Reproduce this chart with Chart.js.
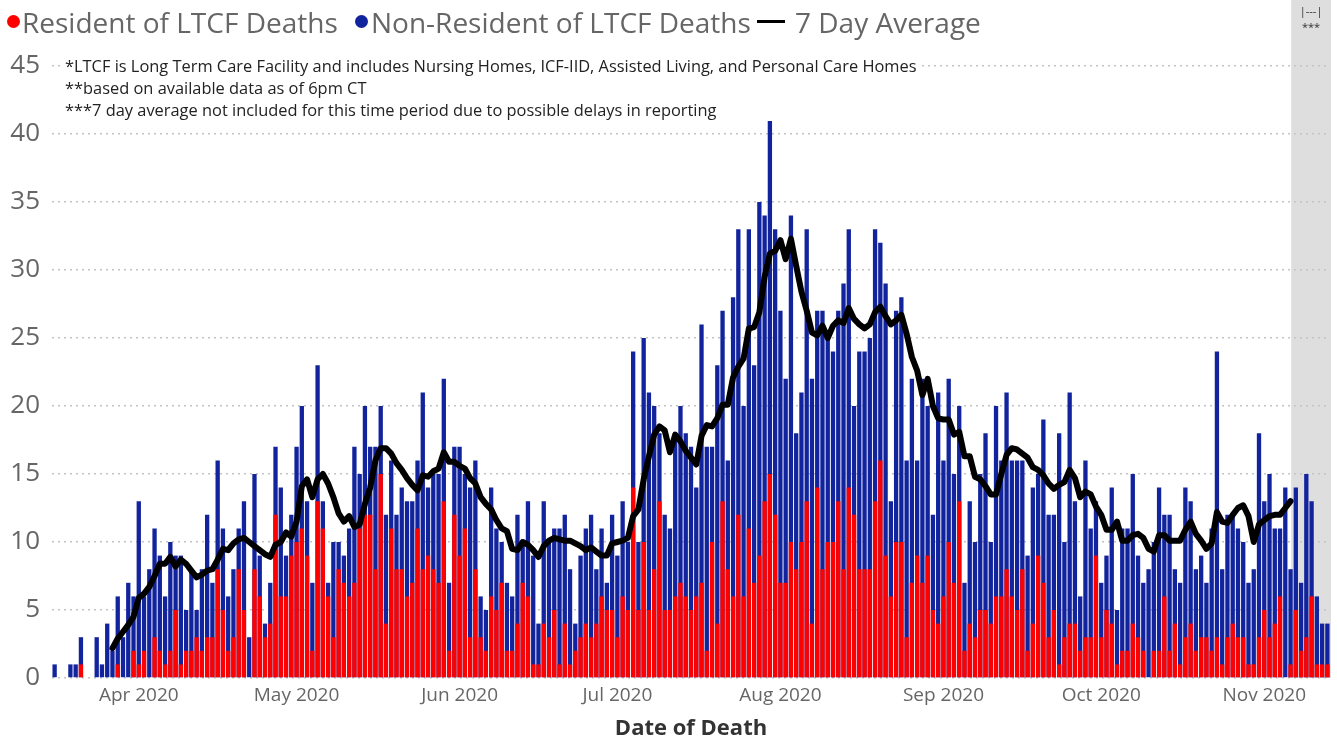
<!DOCTYPE html>
<html>
<head>
<meta charset="utf-8">
<script src="https://cdn.jsdelivr.net/npm/chart.js@4.4.0/dist/chart.umd.min.js"></script>
<style>
  html, body { margin: 0; padding: 0; background: #fff; }
  #wrap { position: relative; width: 1337px; height: 743px; overflow: hidden; }
  #chart { position: absolute; left: 0; top: 0; }
  .lg { position: absolute; top: 4px; font-family: "Open Sans", sans-serif; font-size: 28px; line-height: 36px; color: #666; white-space: nowrap; }
  .dot { position: absolute; top: 15px; width: 13px; height: 13px; border-radius: 50%; }
  .notes { position: absolute; left: 62px; top: 55px; font-family: "Open Sans", sans-serif; font-size: 16.4px; line-height: 22px; color: #222; background: #fff; padding: 0 3px; }
</style>
</head>
<body>
<div id="wrap">
  <canvas id="chart" width="1337" height="743"></canvas>
  <div class="dot" style="left:7px;background:#ff0000"></div>
  <div class="lg" style="left:22px">Resident of LTCF Deaths</div>
  <div class="dot" style="left:355px;background:#12239e"></div>
  <div class="lg" style="left:371px">Non-Resident of LTCF Deaths</div>
  <div style="position:absolute;left:757px;top:20px;width:28px;height:3px;background:#000"></div>
  <div class="lg" style="left:795px">7 Day Average</div>
  <div class="notes">
    *LTCF is Long Term Care Facility and includes Nursing Homes, ICF-IID, Assisted Living, and Personal Care Homes<br>
    **based on available data as of 6pm CT<br>
    ***7 day average not included for this time period due to possible delays in reporting
  </div>
</div>
<script>
// daily deaths, one value per day starting 16 Mar 2020
const totalDeaths = [
  1,0,0,1,1,3,0,0,3,1,
  4,2,6,3,7,6,13,6,8,11,
  9,6,10,9,9,5,8,5,8,12,
  7,16,11,6,8,11,13,3,15,9,
  4,7,17,14,9,12,17,20,13,7,
  23,13,7,10,10,9,11,17,15,20,
  17,17,20,12,16,12,14,13,13,16,
  21,14,15,15,22,7,17,17,15,14,
  16,6,5,14,11,10,7,6,12,10,
  13,9,4,13,10,11,11,12,8,4,
  9,11,12,8,11,7,12,9,13,10,
  24,10,25,21,20,18,12,11,18,20,
  18,17,14,26,17,17,23,27,16,28,
  33,20,33,23,35,34,41,33,27,22,
  34,18,21,33,22,27,27,25,24,27,
  29,33,20,24,24,25,33,32,29,13,
  27,28,16,22,16,22,20,12,21,16,
  22,15,20,7,13,10,15,18,10,20,
  16,21,16,16,16,9,14,15,19,12,
  12,18,10,21,13,6,16,11,13,7,
  9,14,5,11,11,15,9,7,8,10,
  14,12,12,8,7,14,13,8,9,7,
  11,24,8,12,12,11,10,7,8,18,
  13,15,11,11,14,8,14,7,15,13,
  6,4,4
];
const residentDeaths = [
  0,0,0,0,0,1,0,0,0,0,
  0,0,1,0,0,2,1,2,0,3,
  2,1,2,5,1,2,2,3,2,3,
  3,8,5,2,3,8,5,0,8,6,
  3,4,12,6,6,9,10,11,9,2,
  13,11,6,3,8,7,6,7,11,12,
  12,8,15,4,11,8,8,6,7,11,
  8,9,8,7,13,2,12,9,11,3,
  8,3,2,6,5,7,2,2,4,7,
  6,1,1,4,3,5,1,4,1,2,
  3,4,3,4,6,5,5,3,6,5,
  14,5,10,5,8,13,5,5,6,7,
  6,5,6,7,2,10,4,13,8,6,
  12,6,11,7,9,13,15,12,7,7,
  10,8,10,13,4,14,8,10,10,13,
  8,14,12,8,8,8,13,16,9,6,
  10,10,3,7,9,7,9,5,4,6,
  10,7,13,2,4,3,5,5,4,6,
  6,8,6,5,8,2,4,9,7,3,
  5,1,3,4,4,2,3,3,9,3,
  5,4,1,2,2,4,3,2,0,2,
  2,6,2,4,1,3,4,2,3,3,
  2,3,1,3,4,3,3,1,1,3,
  5,3,4,6,0,1,5,2,3,6,
  1,1,1
];
const sevenDayAverage = [
  null,null,null,null,null,null,null,null,null,null,
  null,2.2,2.9,3.4,3.9,4.5,5.9,6.2,6.7,7.5,
  8.4,8.4,8.9,8.2,8.7,8.4,7.9,7.4,7.6,7.9,
  8.0,8.7,9.5,9.4,9.9,10.2,10.3,10.0,9.7,9.4,
  9.1,8.9,9.8,10.0,10.7,10.4,11.5,14.1,14.6,13.3,
  14.6,15.0,14.3,13.3,12.1,11.5,11.9,11.1,11.3,12.8,
  14.0,16.0,16.9,16.9,16.5,15.8,15.3,14.7,14.2,13.8,
  14.9,14.8,15.2,15.4,16.6,15.9,15.9,15.6,15.4,14.7,
  14.3,13.3,12.8,12.4,11.6,11.0,10.8,9.5,9.4,10.0,
  9.8,9.4,8.9,9.7,10.1,10.3,10.2,10.1,10.1,9.9,
  9.7,9.4,9.6,9.3,9.0,9.0,9.9,10.0,10.1,10.3,
  11.9,12.4,14.6,16.3,17.9,18.5,18.2,16.6,17.9,17.4,
  16.7,16.2,15.7,17.8,18.6,18.5,19.1,20.1,20.1,22.1,
  22.9,23.5,25.7,25.8,26.9,29.5,31.2,31.4,32.2,30.8,
  32.3,30.3,28.4,27.0,25.4,25.2,25.9,25.0,25.9,26.3,
  26.1,27.2,26.4,26.0,25.7,26.0,26.9,27.3,26.6,26.0,
  26.3,26.7,25.3,23.6,22.6,20.8,22.0,20.0,19.1,19.0,
  19.0,17.9,18.1,16.3,16.3,14.8,14.6,14.1,13.5,13.5,
  15.0,16.4,16.9,16.8,16.5,16.2,15.5,15.3,14.9,14.3,
  13.9,14.2,14.4,15.3,14.7,13.3,13.7,13.5,12.6,12.0,
  10.9,10.9,11.5,10.1,10.1,10.5,10.6,10.3,9.5,9.3,
  10.5,10.5,10.1,10.1,10.1,10.9,11.5,10.6,10.1,9.5,
  9.9,12.2,11.5,11.4,12.0,12.5,12.7,11.9,10.0,11.3,
  11.6,11.9,12.0,12.0,12.5,13.0,null,null,null,null,
  null,null,null
];
const monthNames = ["Jan","Feb","Mar","Apr","May","Jun","Jul","Aug","Sep","Oct","Nov","Dec"];
const yTicks = [0, 5, 10, 15, 20, 25, 30, 35, 40, 45];
const delayStart = 236; // first day of the shaded "possible delays" period

const days = totalDeaths.map((_, i) => new Date(2020, 2, 16 + i));
const dayLabels = days.map(d => d.getFullYear() + "-" + (d.getMonth() + 1) + "-" + d.getDate());

const font = "'Open Sans', sans-serif";

// grey band for the last week, drawn behind grid and bars
const delayBand = {
  id: "delayBand",
  beforeDraw(chart) {
    const { ctx, chartArea, scales: { x } } = chart;
    const half = (x.getPixelForValue(1) - x.getPixelForValue(0)) / 2;
    const left = x.getPixelForValue(delayStart) - half - 2;
    const right = chartArea.right + 1;
    ctx.save();
    ctx.fillStyle = "#dedede";
    ctx.fillRect(left, 0, right - left, chartArea.bottom);
    ctx.fillStyle = "#333";
    ctx.font = "11px " + font;
    ctx.textAlign = "center";
    const mid = (left + right) / 2;
    ctx.fillText("|---|", mid, 15);
    ctx.fillText("***", mid, 31);
    ctx.restore();
  }
};

new Chart("chart", {
  type: "bar",
  data: {
    labels: dayLabels,
    datasets: [
      {
        type: "line",
        label: "7 Day Average",
        data: sevenDayAverage,
        borderColor: "#000",
        borderWidth: 6,
        pointRadius: 0,
        tension: 0,
        borderJoinStyle: "round",
        borderCapStyle: "round",
        order: 0
      },
      {
        label: "Resident of LTCF Deaths",
        data: residentDeaths,
        backgroundColor: "#ff0000",
        grouped: false,
        categoryPercentage: 1,
        barPercentage: 0.82,
        order: 1
      },
      {
        label: "Non-Resident of LTCF Deaths",
        data: totalDeaths,
        backgroundColor: "#12239e",
        grouped: false,
        categoryPercentage: 1,
        barPercentage: 0.82,
        order: 2
      }
    ]
  },
  options: {
    responsive: false,
    animation: false,
    devicePixelRatio: 1,
    layout: { padding: { left: 0, right: 7, top: 66, bottom: 0 } },
    plugins: { legend: { display: false }, tooltip: { enabled: false } },
    scales: {
      x: {
        offset: true,
        grid: { display: false, drawTicks: false },
        border: { display: false },
        ticks: {
          autoSkip: false,
          maxRotation: 0,
          padding: 6,
          color: "#666",
          font: { family: font, size: 19 },
          callback: function (v, i) {
            const d = days[i];
            return d.getDate() === 1 ? monthNames[d.getMonth()] + " " + d.getFullYear() : "";
          }
        },
        title: {
          display: true,
          text: "Date of Death",
          color: "#333",
          font: { family: font, size: 22, weight: "bold" },
          padding: { top: 2, bottom: 1 }
        },
        afterFit(s) { s.height = 65; }
      },
      y: {
        min: 0,
        max: 45,
        afterBuildTicks(s) { s.ticks = yTicks.map(v => ({ value: v })); },
        grid: { color: "#c4c4c4", lineWidth: 1.5, drawTicks: false },
        border: { display: false, dash: [2, 4] },
        ticks: { padding: 12, color: "#666", font: { family: font, size: 26 } },
        afterFit(s) { s.width = 52; }
      }
    }
  },
  plugins: [delayBand]
});
</script>
</body>
</html>
